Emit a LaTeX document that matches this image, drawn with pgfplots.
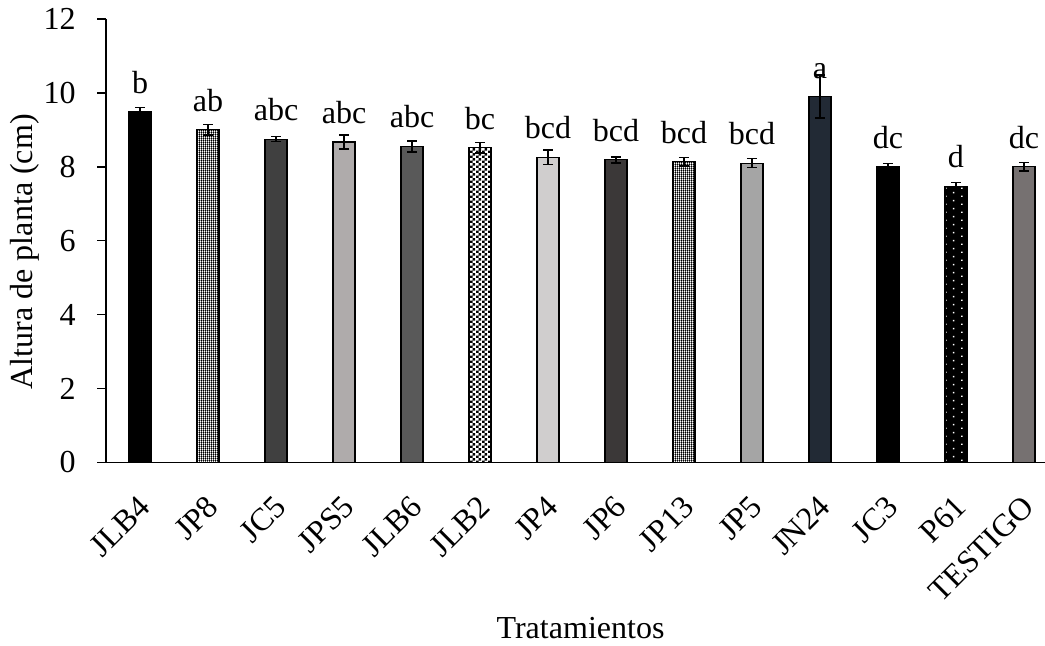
\documentclass[border=0pt]{standalone}
\usepackage{fontspec}
\setmainfont{Liberation Serif}
\usepackage{pgfplots}
\pgfplotsset{compat=1.18}
\usetikzlibrary{patterns}

\definecolor{gA}{HTML}{404040}
\definecolor{gB}{HTML}{AFABAB}
\definecolor{gC}{HTML}{595959}
\definecolor{gD}{HTML}{D0CECE}
\definecolor{gE}{HTML}{3B3838}
\definecolor{gF}{HTML}{A5A5A5}
\definecolor{gN}{HTML}{222A35}
\definecolor{gT}{HTML}{767171}

% coarse checkerboard
\pgfdeclarepatternformonly{checker}{\pgfqpoint{0pt}{0pt}}{\pgfqpoint{2.7pt}{2.7pt}}{\pgfqpoint{2.7pt}{2.7pt}}{%
  \pgfpathrectangle{\pgfqpoint{0pt}{0pt}}{\pgfqpoint{1.35pt}{1.35pt}}%
  \pgfpathrectangle{\pgfqpoint{1.35pt}{1.35pt}}{\pgfqpoint{1.35pt}{1.35pt}}%
  \pgfusepath{fill}}
% fine grid with small open squares
\pgfdeclarepatternformonly{finegrid}{\pgfqpoint{0pt}{0pt}}{\pgfqpoint{1.1pt}{1.1pt}}{\pgfqpoint{1.1pt}{1.1pt}}{%
  \pgfpathrectangle{\pgfqpoint{0pt}{0pt}}{\pgfqpoint{1.1pt}{0.5pt}}%
  \pgfpathrectangle{\pgfqpoint{0pt}{0pt}}{\pgfqpoint{0.5pt}{1.1pt}}%
  \pgfusepath{fill}}
% sparse staggered dots
\pgfdeclarepatternformonly{sparsedots}{\pgfqpoint{0pt}{0pt}}{\pgfqpoint{8pt}{4pt}}{\pgfqpoint{8pt}{4pt}}{%
  \pgfpathrectangle{\pgfqpoint{0.6pt}{0.6pt}}{\pgfqpoint{0.8pt}{0.8pt}}%
  \pgfpathrectangle{\pgfqpoint{4.6pt}{2.6pt}}{\pgfqpoint{0.8pt}{0.8pt}}%
  \pgfusepath{fill}}

\newcommand\txt{\fontsize{16}{19}\selectfont}
% one bar: style, position, mean, error, letter
\newcommand\drawbar[5]{%
  \addplot[#1] table[row sep=\\, x=x, y=y, y error=e, meta=l]{x y e l\\ #2 #3 #4 #5\\};}

\begin{document}
\begin{tikzpicture}
\begin{axis}[
  scale only axis, width=469pt, height=221.5pt,
  xmin=-0.5, xmax=13.31, ymin=0, ymax=12,
  axis x line*=bottom, axis y line*=left,
  axis line style={line width=0.75pt, -},
  ytick={0,2,...,12},
  xtick={0,...,13},
  xticklabels={JLB4,JP8,JC5,JPS5,JLB6,JLB2,JP4,JP6,JP13,JP5,JN24,JC3,P61,TESTIGO},
  x tick style={draw=none},
  y tick style={line width=0.75pt, black},
  tick align=outside, major tick length=4.5pt,
  /pgf/number format/assume math mode=true,
  yticklabel style={font=\txt, inner sep=0pt, xshift=-10.5pt, anchor=east},
  xticklabel style={font=\txt, inner sep=0pt, yshift=-11pt, xshift=-1.5pt, rotate=45, anchor=north east},
  ylabel={Altura de planta (cm)},
  xlabel={Tratamientos},
  every axis y label/.style={at={(axis description cs:0,0.5)}, xshift=-36.75pt, yshift=-5.5pt, rotate=90, anchor=base, font=\txt},
  every axis x label/.style={at={(axis description cs:0.5,0)}, yshift=-88pt, xshift=2.5pt, anchor=base, font=\txt},
  ybar, bar width=11pt, bar shift=0pt,
  every axis plot/.append style={draw=black, line width=0.6pt},
  error bars/y dir=both, error bars/y explicit,
  error bars/error bar style={black, line width=0.8pt},
  error bars/error mark options={black, rotate=90, mark size=2.5pt, line width=0.8pt},
  nodes near coords, point meta=explicit symbolic,
  every node near coord/.append style={font=\txt, anchor=base, yshift=9.25pt, inner sep=0pt, black},
]
\drawbar{fill=black}{0}{9.49}{0.12}{b}
\drawbar{preaction={fill=white}, pattern=finegrid, pattern color=black}{1}{9.00}{0.14}{ab}
\drawbar{fill=gA}{2}{8.75}{0.07}{abc}
\drawbar{fill=gB}{3}{8.67}{0.19}{abc}
\drawbar{fill=gC}{4}{8.55}{0.15}{abc}
\drawbar{preaction={fill=white}, pattern=checker, pattern color=black}{5}{8.52}{0.14}{bc}
\drawbar{fill=gD}{6}{8.26}{0.20}{bcd}
\drawbar{fill=gE}{7}{8.19}{0.08}{bcd}
\drawbar{preaction={fill=white}, pattern=finegrid, pattern color=black}{8}{8.14}{0.11}{bcd}
\drawbar{fill=gF}{9}{8.10}{0.12}{bcd}
\drawbar{fill=gN}{10}{9.90}{0.58}{a}
\drawbar{fill=black}{11}{8.00}{0.09}{dc}
\drawbar{preaction={fill=black}, pattern=sparsedots, pattern color=white}{12}{7.47}{0.11}{d}
\drawbar{fill=gT}{13}{8.00}{0.12}{dc}
\end{axis}
\pgfresetboundingbox
\path[use as bounding box] ([xshift=-53pt,yshift=-91.5pt]current axis.south west) rectangle ([yshift=9.5pt]current axis.north east);
\end{tikzpicture}
\end{document}
